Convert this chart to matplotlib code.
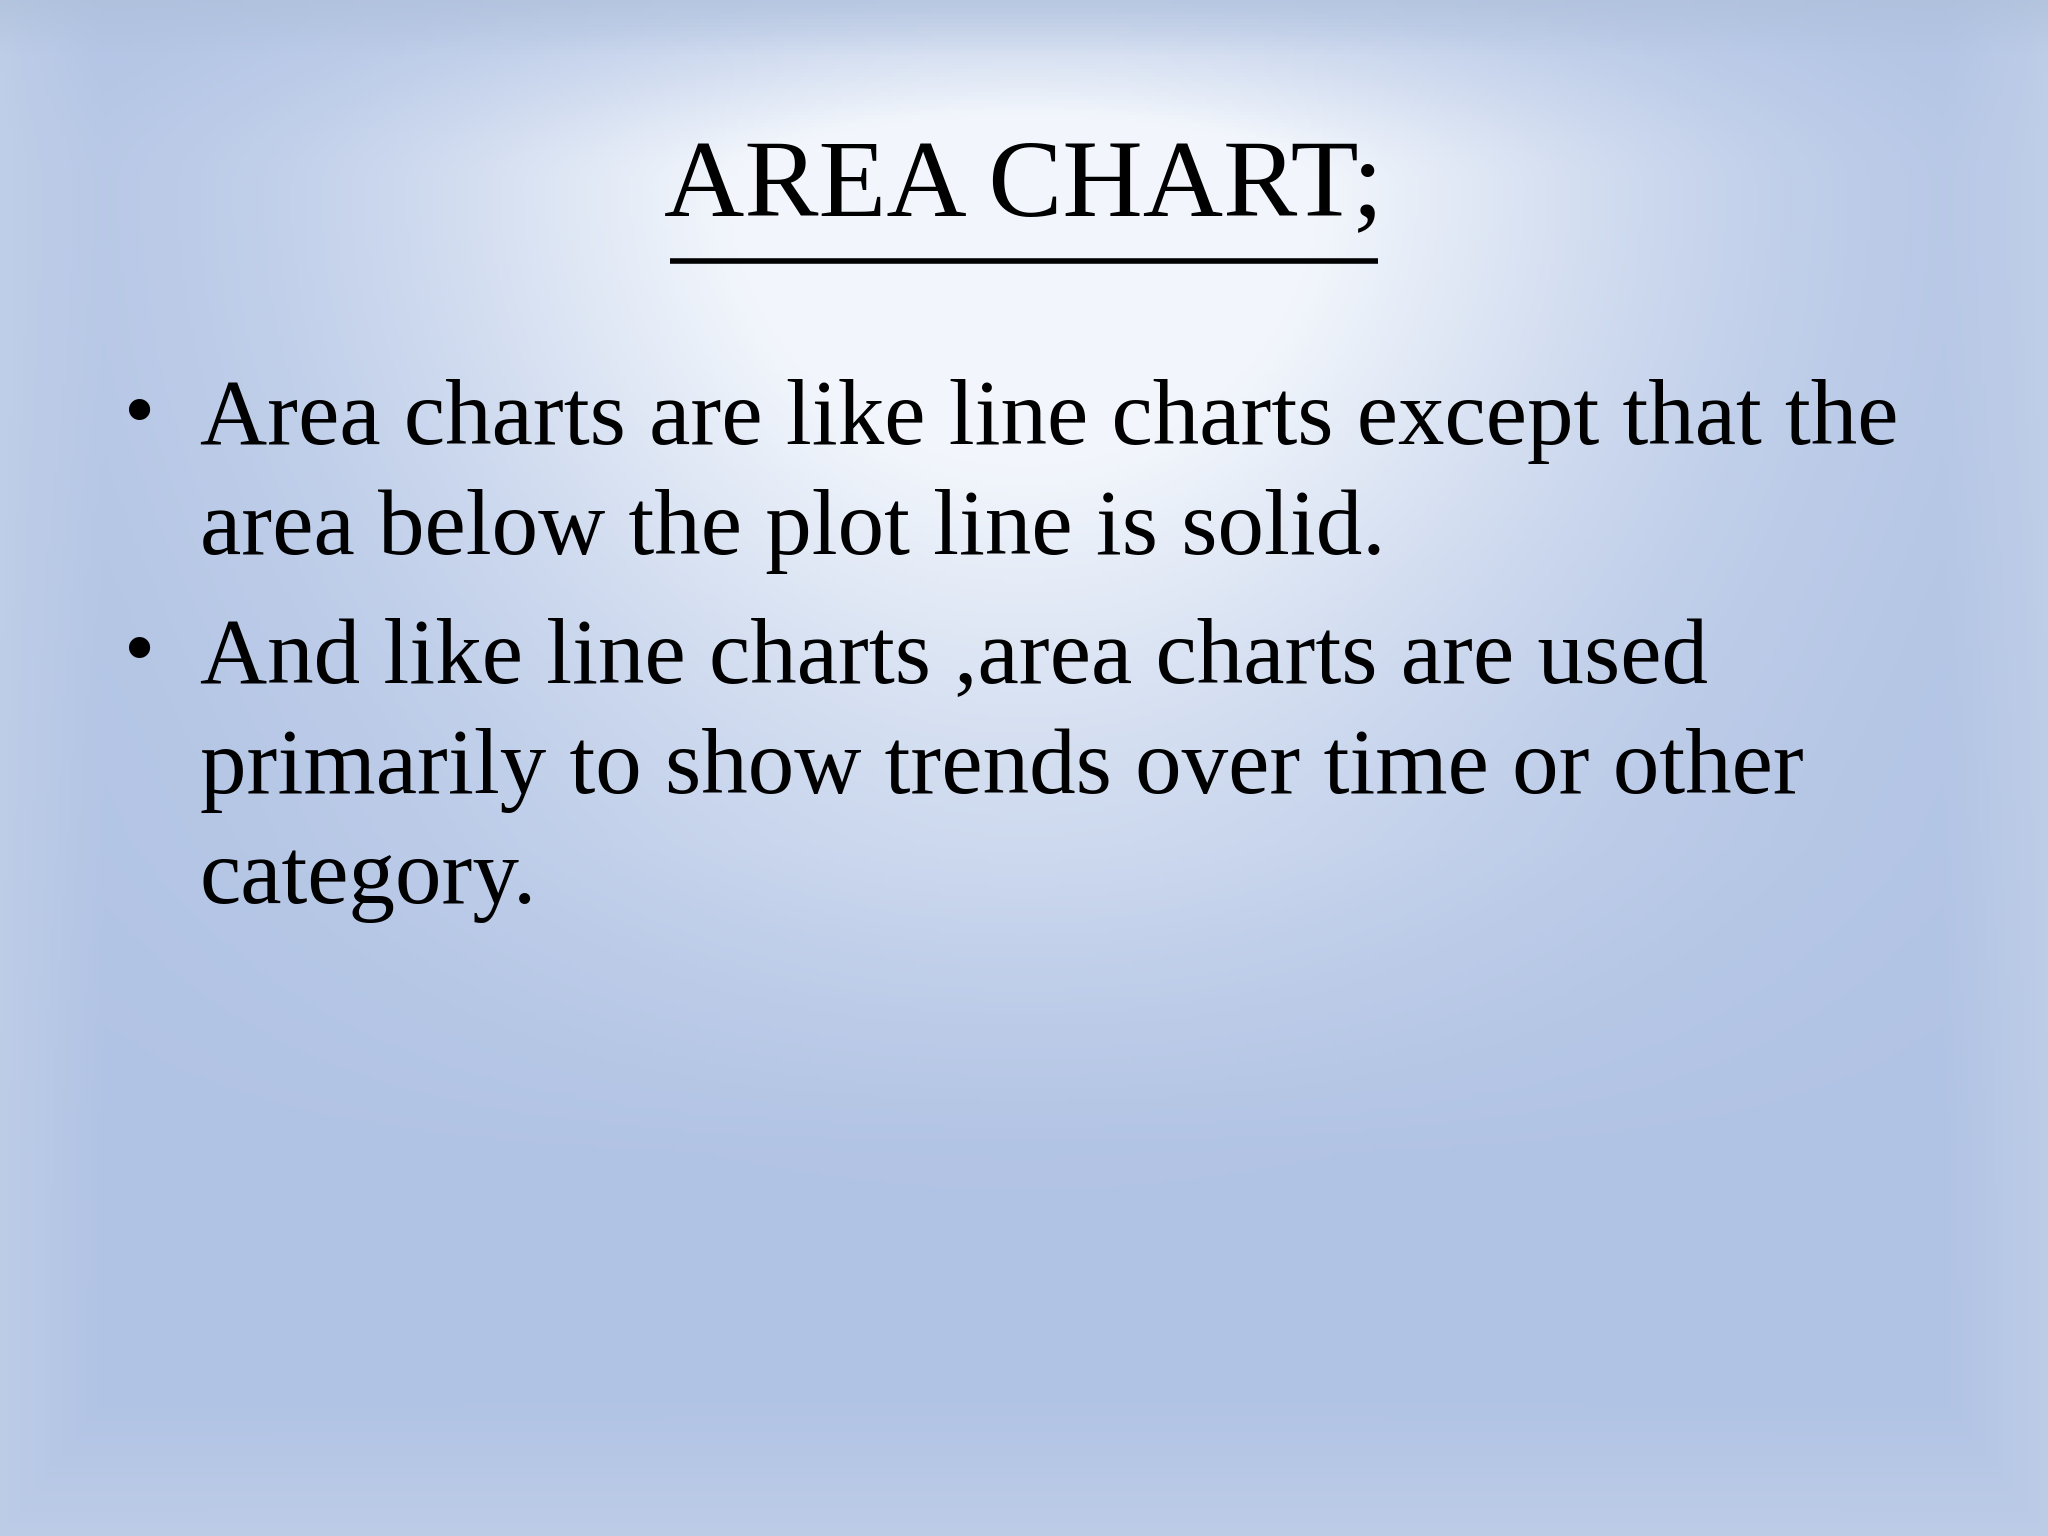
import numpy as np
import matplotlib
matplotlib.use("Agg")
from matplotlib import pyplot as plt
from matplotlib.colors import to_rgb

title = "AREA CHART;"
bullets = [
    ["Area charts are like line charts except that the",
     "area below the plot line is solid."],
    ["And like line charts ,area charts are used",
     "primarily to show trends over time or other",
     "category."],
]

W, H = 2048, 1536
fig = plt.figure(figsize=(W / 100, H / 100), dpi=100)
ax = fig.add_axes([0, 0, 1, 1])
ax.set_xlim(0, 1)
ax.set_ylim(1, 0)
ax.axis("off")

# background: blue slide with a light glow at the top centre
yy, xx = np.mgrid[0:1:400j, 0:1:530j]
base = np.array(to_rgb("#b1c3e4"))
light = np.array(to_rgb("#f2f6fc"))
hx = np.exp(-((xx - 0.5) / 0.29) ** 2)
glow = np.exp(-((np.clip(yy - 0.12, 0, None)) / 0.32) ** 2) * np.exp(-((np.clip(0.12 - yy, 0, None)) / 0.08) ** 2)
body = np.clip(1 - np.clip(yy - 0.55, 0, None) / 0.2, 0, 1) * 0.28
w = np.clip(hx * (glow + body), 0, 1)
img = base * (1 - w[..., None]) + light * w[..., None]
# pale frame toward the outer edges
edge = np.minimum.reduce([xx / 0.05, (1 - xx) / 0.05, (1 - yy) / 0.09])
frame = np.clip(1 - edge, 0, 1) * 0.45
img = img * (1 - frame[..., None]) + np.array(to_rgb("#cbd8ec")) * frame[..., None]
top = np.clip(1 - yy / 0.035, 0, 1)[..., None] * 0.6
img = img * (1 - top) + np.array(to_rgb("#aebfda")) * top
ax.imshow(img, extent=[0, 1, 1, 0], aspect="auto", zorder=0)

serif = ["Liberation Serif", "DejaVu Serif"]

ax.text(0.5, 0.140, title, ha="center", va="baseline", fontsize=80,
        family=serif, color="black")
ax.plot([0.327, 0.673], [0.170, 0.170], color="black", lw=4,
        solid_capstyle="butt")

baselines = [[0.289, 0.361], [0.444, 0.516, 0.588]]
for lines, ys in zip(bullets, baselines):
    ax.text(0.068, ys[0] - 0.003, "\u2022", ha="center", va="baseline",
            fontsize=64, family=serif, color="black")
    for txt, y in zip(lines, ys):
        ax.text(0.0976, y, txt, ha="left", va="baseline", fontsize=67,
                family=serif, color="black")

fig.savefig("out.png", dpi=100)
